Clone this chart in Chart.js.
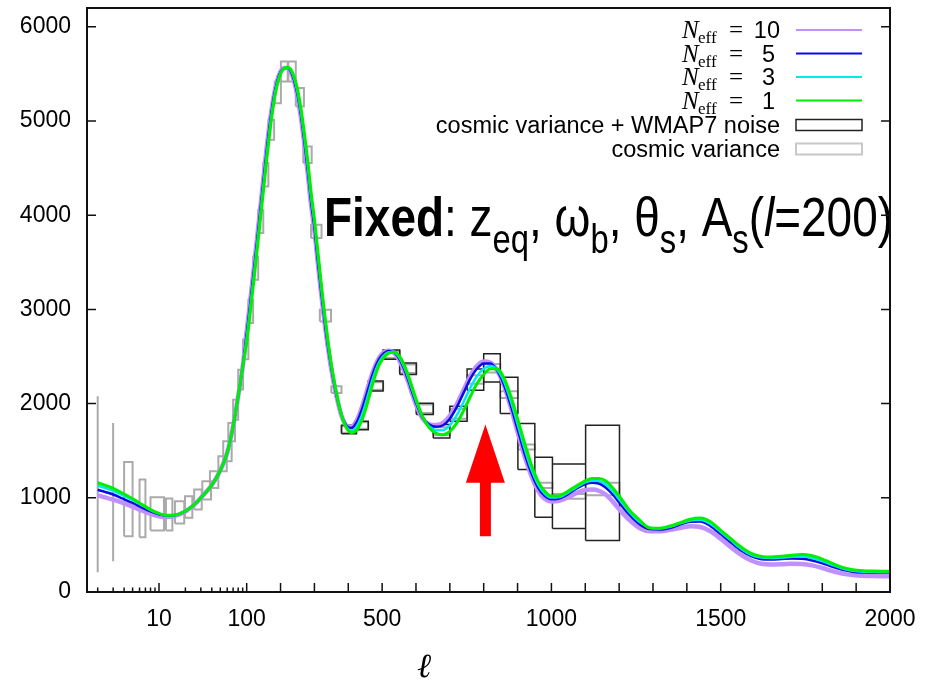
<!DOCTYPE html>
<html>
<head>
<meta charset="utf-8">
<script src="https://cdn.jsdelivr.net/npm/chart.js@4.4.1/dist/chart.umd.min.js"></script>
<style>
html,body{margin:0;padding:0;background:#ffffff;}
#wrap{width:934px;height:681px;}
canvas{display:block;}
</style>
</head>
<body>
<div id="wrap"><canvas id="c" width="934" height="681"></canvas></div>
<script>
// ---------------- data ----------------
const ell = [2,3,4,5,6,8,10,12,15,20,25,30,40,50,60,70,80,90,
  100,110,120,130,140,150,160,170,180,190,200,210,220,230,240,250,260,270,280,290,
  300,310,320,330,340,350,360,370,380,390,400,410,420,430,440,450,460,470,480,490,500,510,520,530,540,550,560,570,580,590,600,
  620,640,660,680,700,720,740,760,780,800,820,840,860,880,900,920,940,960,980,1000,1020,1040,1060,1080,1100,1120,1140,1160,1180,1200,
  1230,1260,1290,1320,1350,1380,1410,1440,1470,1500,1530,1560,1590,1620,1650,1680,1710,1740,1770,1800,1830,1860,1890,1920,1950,1980,2000];

const dNeff1 = [
  1160,1100,1040,990,945,875,835,815,818,860,925,1000,1135,1290,1480,1760,2080,2390,
  2650,2950,3270,3600,3940,4280,4620,4930,5190,5380,5500,5555,5570,5550,5470,5340,5140,4880,4590,4250,
  3960,3620,3280,2960,2670,2420,2210,2030,1880,1775,1715,1692,1700,1745,1820,1925,2050,2180,2300,2400,2465,2510,2535,2545,2540,2510,2450,2370,2270,2160,2050,
  1860,1740,1685,1670,1705,1790,1920,2070,2210,2310,2370,2370,2270,2080,1840,1590,1360,1180,1070,1020,1020,1050,1095,1140,1180,1205,1205,1180,1110,1020,
  870,765,680,678,700,735,772,786,745,655,565,478,410,378,372,380,390,397,385,350,303,262,237,226,222,221,221];

const dNeff3 = [
  1130,1075,1020,975,935,870,832,815,818,860,925,1000,1135,1290,1480,1760,2080,2390,
  2695,3000,3320,3650,3990,4330,4665,4970,5220,5400,5510,5558,5568,5540,5455,5310,5100,4840,4540,4200,
  3930,3580,3240,2925,2645,2405,2200,2025,1880,1780,1728,1715,1735,1790,1875,1985,2110,2235,2345,2430,2490,2527,2545,2548,2535,2495,2430,2345,2245,2135,2030,
  1855,1755,1718,1720,1770,1875,2015,2165,2290,2370,2400,2360,2235,2030,1785,1535,1310,1145,1045,1002,1005,1035,1080,1125,1165,1185,1180,1145,1075,985,
  850,745,685,675,693,728,760,767,722,638,548,460,395,365,360,366,374,376,360,328,287,250,226,215,211,210,210];

const dNeff5 = [
  1085,1035,985,945,910,855,825,810,815,860,925,1000,1135,1290,1480,1760,2080,2390,
  2740,3045,3370,3700,4040,4380,4715,5010,5250,5420,5520,5560,5565,5530,5435,5285,5070,4795,4490,4150,
  3870,3520,3190,2880,2610,2380,2180,2015,1880,1790,1748,1742,1775,1840,1935,2050,2170,2290,2390,2465,2515,2545,2558,2552,2528,2480,2410,2320,2220,2110,2010,
  1850,1775,1755,1770,1840,1960,2110,2260,2370,2425,2425,2350,2200,1980,1730,1480,1270,1110,1020,985,990,1020,1065,1110,1145,1160,1150,1110,1040,950,
  820,720,668,663,680,715,745,748,700,615,525,440,380,348,345,350,355,352,335,305,268,235,215,207,204,204,204];

const dNeff10 = [
  1025,980,940,905,875,830,805,795,805,855,922,1000,1135,1290,1480,1760,2080,2390,
  2770,3080,3400,3735,4075,4415,4745,5035,5265,5430,5525,5562,5563,5520,5420,5260,5040,4765,4455,4115,
  3840,3495,3165,2860,2590,2360,2165,2005,1870,1790,1755,1755,1790,1860,1960,2075,2195,2310,2405,2480,2530,2555,2562,2552,2520,2465,2390,2300,2200,2090,1990,
  1840,1780,1772,1795,1870,1990,2140,2290,2400,2448,2435,2350,2190,1960,1700,1450,1240,1080,990,962,965,990,1025,1060,1082,1088,1075,1035,965,880,
  765,680,645,645,660,680,698,690,645,565,475,395,335,300,292,295,300,298,283,255,222,195,180,172,169,168,168];

// cosmic variance boxes: ell range and D range
const cvLo  = [2,3,4,6,8,12,15.2,19.8,25.2,31.2,38.1,47.5,54,61.7,70,80,91,105,119,134,149,164,183,201,223,245,267,290,316,350,380,419,459,503,552,601,651,700,751,800,849,901,951,1003,1101];
const cvHi  = [2,3,5,7,11.4,14.2,19.4,24,30.7,39.2,47.5,59.2,67.4,73.6,80,91,105,119,134,149,164,181,201,221,245,269,292,321,349,380,424,459,503,552,601,651,700,751,800,849,901,951,1003,1101,1201];
const cvMin = [210,327,592,581,653,653,727,787,875,981,1105,1282,1388,1600,1830,2150,2470,2856,3316,3810,4306,4801,5190,5420,5420,5155,4554,3758,2873,2113,1690,1733,2148,2485,2326,1900,1665,1840,2210,2330,2060,1512,1105,990,1027];
const cvMax = [2077,1795,1381,1194,1006,992,963,1017,1088,1176,1282,1441,1600,1795,2042,2360,2680,3103,3563,4058,4554,5013,5420,5632,5632,5350,4730,3900,2997,2184,1760,1801,2226,2555,2414,1990,1750,1945,2300,2420,2130,1565,1159,1040,1159];

// cosmic variance + WMAP7 noise boxes
const nzLo  = [380,419,459,503,552,601,651,700,751,800,849,901,951,1003,1101];
const nzHi  = [424,459,503,552,601,651,700,751,800,849,901,951,1003,1101,1201];
const nzMin = [1680,1722,2135,2470,2310,1885,1636,1812,2141,2230,1894,1300,794,674,546];
const nzMax = [1770,1812,2240,2570,2430,2005,1777,1971,2368,2530,2279,1788,1430,1360,1770];

const neffValues = [10, 5, 3, 1];
const xTickEll = [10, 100, 500, 1000, 1500, 2000];
const yTickVals = [0, 1000, 2000, 3000, 4000, 5000, 6000];
const yMax = 6200;
const ellMin = 1.51, ellMax = 2000;

// red arrow (data units)
const arrowEll = 805, arrowTip = 1777, arrowHeadBase = 1160, arrowTail = 592;

// ---------------- axis transform: log below 100, linear above ----------------
const LOG_DECADE = 259;
function u(l){ return l >= 100 ? l : 100 + LOG_DECADE * (Math.log10(l) - 2); }

const FONT_SANS = '"Liberation Sans", Arial, Helvetica, sans-serif';
const FONT_SERIF = '"Liberation Serif", "Times New Roman", serif';
const colors = {n10:'#c090ff', n5:'#0a0ae6', n3:'#00e8f0', n1:'#00ee00'};

function curvePoints(vals){ return ell.map((l,i)=>({x:u(l), y:vals[i]})); }
function boxPoints(lo,hi,mn,mx){
  const pts=[];
  for(let i=0;i<lo.length;i++){
    const a=u(lo[i]), b=u(hi[i]);
    pts.push({x:a,y:mn[i]},{x:b,y:mn[i]},{x:b,y:mx[i]},{x:a,y:mx[i]},{x:a,y:mn[i]},{x:a,y:null});
  }
  return pts;
}

function drawFixedText(ctx){
  const parts = [
    {t:'Fixed', f:'bold', s:56, dy:0},
    {t:': z', f:'', s:56, dy:0},
    {t:'eq', f:'', s:40, dy:17},
    {t:', \u03c9', f:'', s:56, dy:0},
    {t:'b', f:'', s:40, dy:17},
    {t:', \u03b8', f:'', s:56, dy:0},
    {t:'s', f:'', s:40, dy:17},
    {t:', A', f:'', s:56, dy:0},
    {t:'s', f:'', s:40, dy:17},
    {t:'(', f:'', s:56, dy:0},
    {t:'l', f:'italic', s:56, dy:0},
    {t:'=200)', f:'', s:56, dy:0}
  ];
  let total=0;
  parts.forEach(p=>{ ctx.font = `${p.f} ${p.s}px ${FONT_SANS}`; p.w = ctx.measureText(p.t).width; total += p.w; });
  const x0 = 324, x1 = 893, base = 236;
  const sx = (x1-x0)/total;
  ctx.save();
  ctx.translate(x0, base); ctx.scale(sx, 1);
  ctx.fillStyle = '#000'; ctx.textAlign='left'; ctx.textBaseline='alphabetic';
  let cx = 0;
  parts.forEach(p=>{ ctx.font = `${p.f} ${p.s}px ${FONT_SANS}`; ctx.fillText(p.t, cx, p.dy); cx += p.w; });
  ctx.restore();
}

const overlay = {
  id:'overlay',
  afterDatasetsDraw(chart){
    const {ctx, chartArea:a, scales:{x, y}} = chart;
    ctx.save();
    // red arrow
    const ax = x.getPixelForValue(u(arrowEll));
    const tip = y.getPixelForValue(arrowTip), hb = y.getPixelForValue(arrowHeadBase), tail = y.getPixelForValue(arrowTail);
    ctx.fillStyle = '#ff0000';
    ctx.beginPath();
    ctx.moveTo(ax, tip); ctx.lineTo(ax+19.5, hb); ctx.lineTo(ax+5.5, hb); ctx.lineTo(ax+5.5, tail);
    ctx.lineTo(ax-5.5, tail); ctx.lineTo(ax-5.5, hb); ctx.lineTo(ax-19.5, hb); ctx.closePath(); ctx.fill();

    // annotation
    drawFixedText(ctx);

    // inward ticks
    ctx.strokeStyle = '#111'; ctx.lineWidth = 1.5;
    ctx.beginPath();
    yTickVals.forEach(v=>{
      const py = y.getPixelForValue(v);
      ctx.moveTo(a.left, py); ctx.lineTo(a.left+9, py);
      ctx.moveTo(a.right, py); ctx.lineTo(a.right-9, py);
    });
    const major = [10, 100]; for(let l=200;l<2000;l+=100) major.push(l);
    major.forEach(l=>{ const px = x.getPixelForValue(u(l)); ctx.moveTo(px, a.bottom); ctx.lineTo(px, a.bottom-9); });
    const minor = []; for(let l=2;l<10;l++) minor.push(l); for(let l=20;l<100;l+=10) minor.push(l);
    minor.forEach(l=>{ const px = x.getPixelForValue(u(l)); ctx.moveTo(px, a.bottom); ctx.lineTo(px, a.bottom-4.5); });
    ctx.stroke();

    // frame
    ctx.lineWidth = 2; ctx.strokeStyle = '#111';
    ctx.strokeRect(a.left, a.top, a.right-a.left, a.bottom-a.top);

    // legend
    const rowY = [30, 53.5, 77, 100.5, 125, 149];
    const lineCols = [colors.n10, colors.n5, colors.n3, colors.n1];
    ctx.fillStyle = '#000'; ctx.textBaseline = 'alphabetic';
    neffValues.forEach((n,i)=>{
      const cy = rowY[i], base = cy + 8;
      ctx.textAlign = 'left';
      ctx.font = `italic 25px ${FONT_SERIF}`; ctx.fillText('N', 682, base);
      ctx.font = `17px ${FONT_SERIF}`; ctx.fillText('eff', 698, base + 5);
      ctx.font = `25px ${FONT_SERIF}`; ctx.fillText('=', 729, base);
      ctx.font = `23.5px ${FONT_SANS}`; ctx.textAlign = 'right';
      ctx.fillText(String(n), String(n).length > 1 ? 780 : 775, base);
      ctx.strokeStyle = lineCols[i]; ctx.lineWidth = 2;
      ctx.beginPath(); ctx.moveTo(796, cy); ctx.lineTo(862, cy); ctx.stroke();
    });
    ctx.font = `23.5px ${FONT_SANS}`; ctx.textAlign = 'right';
    ctx.fillText('cosmic variance + WMAP7 noise', 780, rowY[4] + 8);
    ctx.fillText('cosmic variance', 780, rowY[5] + 8);
    ctx.strokeStyle = '#222'; ctx.lineWidth = 1.5; ctx.strokeRect(796, rowY[4]-5.5, 66, 11);
    ctx.strokeStyle = '#c8c8c8'; ctx.lineWidth = 2; ctx.strokeRect(796, rowY[5]-5.5, 66, 11);

    // x-axis label
    ctx.font = `italic 34px "DejaVu Serif", ${FONT_SERIF}`; ctx.textAlign = 'center'; ctx.fillStyle = '#000';
    ctx.fillText('\u2113', 424, 677);
    ctx.restore();
  }
};

new Chart(document.getElementById('c'), {
  type: 'line',
  data: {
    datasets: [
      {label:'N_eff = 1', data: curvePoints(dNeff1), borderColor: colors.n1, borderWidth: 3, cubicInterpolationMode:'monotone', pointRadius:0, fill:false},
      {label:'N_eff = 3', data: curvePoints(dNeff3), borderColor: colors.n3, borderWidth: 2.5, cubicInterpolationMode:'monotone', pointRadius:0, fill:false},
      {label:'N_eff = 5', data: curvePoints(dNeff5), borderColor: colors.n5, borderWidth: 2.5, cubicInterpolationMode:'monotone', pointRadius:0, fill:false},
      {label:'N_eff = 10', data: curvePoints(dNeff10), borderColor: colors.n10, borderWidth: 4.5, cubicInterpolationMode:'monotone', pointRadius:0, fill:false},
      {label:'cosmic variance + WMAP7 noise', data: boxPoints(nzLo, nzHi, nzMin, nzMax), borderColor:'#222', borderWidth:1.5, tension:0, spanGaps:false, pointRadius:0, fill:false},
      {label:'cosmic variance', data: boxPoints(cvLo, cvHi, cvMin, cvMax), borderColor:'#aaaaaa', borderWidth:2, tension:0, spanGaps:false, pointRadius:0, fill:false}
    ]
  },
  options: {
    responsive:false, animation:false, devicePixelRatio:1,
    layout:{padding:{top:8, right:44, left:0, bottom:0}},
    plugins:{legend:{display:false}, tooltip:{enabled:false}},
    elements:{point:{radius:0}},
    scales:{
      x:{
        type:'linear', min:u(ellMin), max:ellMax,
        grid:{display:false, drawTicks:false}, border:{display:false},
        afterBuildTicks: ax => { ax.ticks = xTickEll.map(v=>({value:u(v)})); },
        afterFit: ax => { ax.height = 89; ax.paddingLeft = 0; ax.paddingRight = 0; },
        ticks:{autoSkip:false, maxRotation:0, padding:14, color:'#000', font:{family:FONT_SANS, size:23},
               callback:(v,i)=>String(xTickEll[i])}
      },
      y:{
        type:'linear', min:0, max:yMax,
        grid:{display:false, drawTicks:false}, border:{display:false},
        afterBuildTicks: ax => { ax.ticks = yTickVals.map(v=>({value:v})); },
        afterFit: ax => { ax.width = 87; ax.paddingTop = 0; ax.paddingBottom = 0; },
        ticks:{padding:16, color:'#000', font:{family:FONT_SANS, size:23}, callback:(v)=>String(v)}
      }
    }
  },
  plugins:[overlay]
});
</script>
</body>
</html>
